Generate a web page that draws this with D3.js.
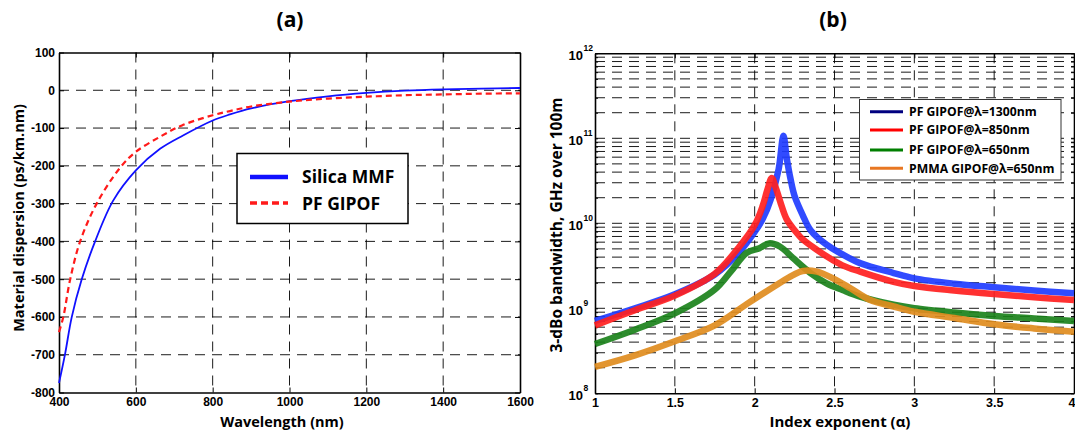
<!DOCTYPE html>
<html lang="en">
<head>
<meta charset="utf-8">
<title>Material dispersion and 3-dB bandwidth</title>
<script src="https://d3js.org/d3.v7.min.js"></script>
<style>
  body { margin: 0; background: #fff; }
  svg text { font-family: "Liberation Sans", Arial, sans-serif; font-weight: bold; fill: #000; }
  svg text.big { font-family: "Open Sans", sans-serif; }
</style>
</head>
<body>
<script>
// (a) material dispersion, ps/km.nm
var lamSilica = [400, 416, 433, 459, 494, 541, 600, 663, 724, 800, 845, 900, 1000, 1100, 1200, 1300, 1400, 1500, 1600];
var dispSilica = [-775, -697, -601, -501, -400, -292, -212, -155, -119, -80, -64, -48, -29, -16, -7, -1, 2.5, 4.5, 6];
var lamPf = [400, 411, 429, 455, 498, 559, 600, 663, 720, 800, 845, 900, 1000, 1100, 1200, 1300, 1400, 1500, 1600];
var dispPf = [-640, -601, -501, -400, -300, -205, -163, -123, -93, -66, -55, -43, -30, -22, -17, -13, -11, -9, -8];

// (b) 3-dB bandwidth vs index exponent
var alpha1300 = [1, 1.25, 1.5, 1.75, 1.9, 2, 2.05, 2.1, 2.15, 2.18, 2.2, 2.225, 2.25, 2.3, 2.35, 2.45, 2.55, 2.66, 2.87, 3, 3.25, 3.5, 3.75, 4];
var bw1300 = [7.1e8, 1.0e9, 1.46e9, 2.5e9, 4.5e9, 7.9e9, 1.12e10, 1.9e10, 4.3e10, 1.07e11, 6.0e10, 3.3e10, 2.1e10, 1.26e10, 8.3e9, 5.6e9, 4.3e9, 3.4e9, 2.6e9, 2.25e9, 1.95e9, 1.77e9, 1.62e9, 1.5e9];
var alpha850 = [1, 1.25, 1.5, 1.75, 1.9, 2, 2.05, 2.08, 2.107, 2.13, 2.16, 2.2, 2.25, 2.3, 2.35, 2.45, 2.55, 2.66, 2.87, 3, 3.25, 3.5, 3.75, 4];
var bw850 = [6.3e8, 9.5e8, 1.41e9, 2.55e9, 5.2e9, 9.5e9, 1.6e10, 2.5e10, 3.4e10, 2.7e10, 1.8e10, 1.12e10, 8.3e9, 6.5e9, 5.5e9, 4.1e9, 3.2e9, 2.7e9, 2.05e9, 1.83e9, 1.62e9, 1.47e9, 1.35e9, 1.25e9];
var alpha650 = [1, 1.25, 1.5, 1.75, 1.85, 1.95, 2.03, 2.09, 2.16, 2.24, 2.35, 2.45, 2.55, 2.66, 2.87, 3, 3.25, 3.5, 3.75, 4];
var bw650 = [3.8e8, 5.6e8, 8.7e8, 1.66e9, 2.7e9, 4.5e9, 5.1e9, 5.8e9, 5.3e9, 3.9e9, 2.6e9, 1.97e9, 1.64e9, 1.37e9, 1.1e9, 1.0e9, 8.9e8, 8.1e8, 7.6e8, 7.1e8];
var alphaPmma = [1, 1.25, 1.5, 1.75, 1.95, 2.15, 2.24, 2.3, 2.39, 2.49, 2.6, 2.72, 2.87, 3, 3.25, 3.5, 3.75, 4];
var bwPmma = [2.05e8, 2.8e8, 4.1e8, 6.3e8, 1.12e9, 1.95e9, 2.45e9, 2.75e9, 2.7e9, 2.25e9, 1.72e9, 1.26e9, 1.05e9, 9.1e8, 7.7e8, 6.5e8, 5.8e8, 5.3e8];

var namesB = ["PF GIPOF@\u03bb=1300nm", "PF GIPOF@\u03bb=850nm", "PF GIPOF@\u03bb=650nm", "PMMA GIPOF@\u03bb=650nm"];
var colorsB = ["#1f3cff", "#ff2020", "#1b821b", "#e08c1e"];
var legendColorsB = ["#00007f", "#ff0000", "#007f00", "#e87722"];

var svg = d3.select("body").append("svg")
	.attr("width", 1075)
	.attr("height", 432);

//---------------- panel (a)
var xa = d3.scaleLinear().domain([400, 1600]).range([59, 520]);
var ya = d3.scaleLinear().domain([-800, 100]).range([392.5, 52.5]);
var ga = svg.append("g");

ga.selectAll(".gx").data(d3.range(600, 1401, 200)).enter().append("line")
	.attr("x1", function(d){ return xa(d); }).attr("x2", function(d){ return xa(d); })
	.attr("y1", 52.5).attr("y2", 392.5)
	.attr("stroke", "#000").attr("stroke-width", 0.9).attr("stroke-dasharray", "10,7");
ga.selectAll(".gy").data(d3.range(-700, 1, 100)).enter().append("line")
	.attr("x1", 59).attr("x2", 520)
	.attr("y1", function(d){ return ya(d); }).attr("y2", function(d){ return ya(d); })
	.attr("stroke", "#000").attr("stroke-width", 0.9).attr("stroke-dasharray", "10,7");

function styleAxis(g, fs) {
	g.select(".domain").attr("stroke-width", 1.6);
	g.selectAll("text").style("font-size", fs).attr("fill", "#000");
}

ga.append("g").attr("transform", "translate(0,392.5)")
	.call(d3.axisBottom(xa).tickValues(d3.range(400, 1601, 200)).tickSize(-5).tickSizeOuter(0).tickPadding(5).tickFormat(function(d){ return String(d); }))
	.call(styleAxis, "12px");
ga.append("g").attr("transform", "translate(0,52.5)")
	.call(d3.axisTop(xa).tickValues(d3.range(400, 1601, 200)).tickSize(-5).tickSizeOuter(0).tickFormat(""))
	.call(styleAxis, "12px");
ga.append("g").attr("transform", "translate(59,0)")
	.call(d3.axisLeft(ya).tickValues(d3.range(-800, 101, 100)).tickSize(-5).tickSizeOuter(0).tickPadding(4).tickFormat(function(d){ return String(d); }))
	.call(styleAxis, "12px");
ga.append("g").attr("transform", "translate(520,0)")
	.call(d3.axisRight(ya).tickValues(d3.range(-800, 101, 100)).tickSize(-5).tickSizeOuter(0).tickFormat(""))
	.call(styleAxis, "12px");

var lineA = d3.line().curve(d3.curveCatmullRom.alpha(0.5))
	.x(function(d){ return xa(d[0]); }).y(function(d){ return ya(d[1]); });

ga.append("path").datum(d3.zip(lamSilica, dispSilica))
	.attr("d", lineA).attr("fill", "none").attr("stroke", "#1010ff").attr("stroke-width", 1.8);
ga.append("path").datum(d3.zip(lamPf, dispPf))
	.attr("d", lineA).attr("fill", "none").attr("stroke", "#ff1a1a").attr("stroke-width", 2.2).attr("stroke-dasharray", "6,4");

// legend (a)
var lga = ga.append("g");
lga.append("rect").attr("x", 237).attr("y", 153.5).attr("width", 171).attr("height", 70)
	.attr("fill", "#fff").attr("stroke", "#000").attr("stroke-width", 1.5);
lga.append("line").attr("x1", 250).attr("x2", 288).attr("y1", 177).attr("y2", 177)
	.attr("stroke", "#1010ff").attr("stroke-width", 4.5);
lga.append("line").attr("x1", 250).attr("x2", 288).attr("y1", 203).attr("y2", 203)
	.attr("stroke", "#ff1a1a").attr("stroke-width", 3.5).attr("stroke-dasharray", "7,4");
lga.append("text").attr("class", "big").attr("x", 302).attr("y", 183).style("font-size", "17.5px").text("Silica MMF");
lga.append("text").attr("class", "big").attr("x", 302).attr("y", 209.5).style("font-size", "17.5px").text("PF GIPOF");

ga.append("text").attr("class", "big").attr("x", 290).attr("y", 27).attr("text-anchor", "middle")
	.style("font-size", "21px").text("(a)");
ga.append("text").attr("class", "big").attr("x", 282).attr("y", 427).attr("text-anchor", "middle")
	.style("font-size", "14.5px").text("Wavelength (nm)");
ga.append("text").attr("class", "big").attr("transform", "translate(24,218) rotate(-90)").attr("text-anchor", "middle")
	.style("font-size", "14.5px").text("Material dispersion (ps/km.nm)");

//---------------- panel (b)
var xb = d3.scaleLinear().domain([1, 4]).range([595, 1074]);
var yb = d3.scaleLog().domain([1e8, 1e12]).range([393.3, 53.3]);
var gb = svg.append("g");

var majors = [1e8, 1e9, 1e10, 1e11, 1e12];
var minors = [];
[1e8, 1e9, 1e10, 1e11].forEach(function(p){
	for (var k = 2; k <= 9; k++) minors.push(k * p);
});

gb.selectAll(".gx").data([1.5, 2, 2.5, 3, 3.5]).enter().append("line")
	.attr("x1", function(d){ return xb(d); }).attr("x2", function(d){ return xb(d); })
	.attr("y1", 53.3).attr("y2", 393.3)
	.attr("stroke", "#000").attr("stroke-width", 0.9).attr("stroke-dasharray", "10,7");
gb.selectAll(".gy").data(minors.concat([1e9, 1e10, 1e11])).enter().append("line")
	.attr("x1", 595).attr("x2", 1074)
	.attr("y1", function(d){ return yb(d); }).attr("y2", function(d){ return yb(d); })
	.attr("stroke", "#000").attr("stroke-width", 0.9).attr("stroke-dasharray", "10,7");

var xbTicks = [1, 1.5, 2, 2.5, 3, 3.5, 4];
gb.append("g").attr("transform", "translate(0,393.3)")
	.call(d3.axisBottom(xb).tickValues(xbTicks).tickSize(-5).tickSizeOuter(0).tickPadding(5).tickFormat(function(d){ return String(d); }))
	.call(styleAxis, "12.5px")
	.selectAll("text").filter(function(d){ return d === 4; }).attr("text-anchor", "end").attr("x", 1);
gb.append("g").attr("transform", "translate(0,53.3)")
	.call(d3.axisTop(xb).tickValues(xbTicks).tickSize(-5).tickSizeOuter(0).tickFormat(""))
	.call(styleAxis, "12px");
gb.append("g").attr("transform", "translate(595,0)")
	.call(d3.axisLeft(yb).tickValues(minors.concat(majors)).tickSize(-3).tickSizeOuter(0).tickFormat(""))
	.call(styleAxis, "12px");
gb.append("g").attr("transform", "translate(1074,0)")
	.call(d3.axisRight(yb).tickValues(minors.concat(majors)).tickSize(-3).tickSizeOuter(0).tickFormat(""))
	.call(styleAxis, "12px");

// log tick labels 10^n
var tl = gb.selectAll(".ylab").data(majors).enter().append("g");
tl.append("text").attr("x", 583).attr("y", function(d){ return yb(d) + 7; })
	.attr("text-anchor", "end").style("font-size", "13px").text("10");
tl.append("text").attr("x", 583.5).attr("y", function(d){ return yb(d) - 2.5; })
	.style("font-size", "8.5px").text(function(d){ return String(Math.round(Math.log10(d))); });

var seriesB = [
	d3.zip(alpha1300, bw1300),
	d3.zip(alpha850, bw850),
	d3.zip(alpha650, bw650),
	d3.zip(alphaPmma, bwPmma)
];

var lineB = d3.line().curve(d3.curveCatmullRom.alpha(0.5))
	.x(function(d){ return xb(d[0]); }).y(function(d){ return yb(d[1]); });

seriesB.forEach(function(s, i){
	gb.append("path").datum(s).attr("d", lineB)
		.attr("fill", "none").attr("stroke", colorsB[i]).attr("stroke-width", 6.5)
		.attr("stroke-linejoin", "round").attr("stroke-opacity", 0.92);
});

// legend (b)
var lgb = gb.append("g");
lgb.append("rect").attr("x", 859.5).attr("y", 99.5).attr("width", 201.5).attr("height", 80.5)
	.attr("fill", "#fff").attr("stroke", "#333").attr("stroke-width", 1);
var rowsY = [111.7, 130, 150, 168.3];
namesB.forEach(function(n, i){
	lgb.append("line").attr("x1", 870).attr("x2", 903).attr("y1", rowsY[i]).attr("y2", rowsY[i])
		.attr("stroke", legendColorsB[i]).attr("stroke-width", 3);
	lgb.append("text").attr("class", "big").attr("x", 909).attr("y", rowsY[i] + 4.3)
		.style("font-size", "12.2px").text(n);
});

gb.append("text").attr("class", "big").attr("x", 833).attr("y", 27).attr("text-anchor", "middle")
	.style("font-size", "21px").text("(b)");
gb.append("text").attr("class", "big").attr("x", 840).attr("y", 427).attr("text-anchor", "middle")
	.style("font-size", "15px").text("Index exponent (\u03b1)");
gb.append("text").attr("class", "big").attr("transform", "translate(562,225) rotate(-90)").attr("text-anchor", "middle")
	.style("font-size", "15.5px").text("3-dBo bandwidth, GHz over 100m");
</script>
</body>
</html>
